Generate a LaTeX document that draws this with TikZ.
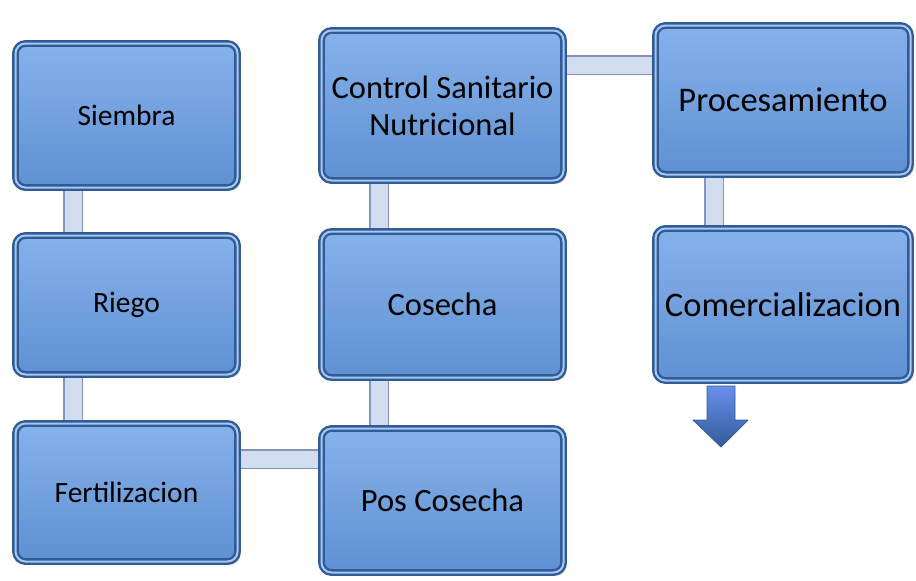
\documentclass[tikz,border=0pt]{standalone}
\usepackage{fontspec}
\setmainfont{Carlito}
\usepackage{tikz}
\usetikzlibrary{positioning, shadows, backgrounds}
\definecolor{boxtop}{HTML}{86B2EA}
\definecolor{boxbottom}{HTML}{5F90D2}
\definecolor{boxedge}{HTML}{2F5C98}
\definecolor{boxshine}{HTML}{A9C8EF}
\definecolor{pipeedge}{HTML}{8395BA}
\definecolor{pipefill}{HTML}{D3DDF0}
\tikzset{Block/.style={draw=boxedge, line width=2.4pt, double=boxshine, double distance=2pt, rounded corners=10pt, top color=boxtop, bottom color=boxbottom, align=center, text=black, inner sep=2pt, drop shadow={opacity=.4, shadow xshift=3pt, shadow yshift=-3pt}}}
\tikzset{Left/.style={minimum width=222pt, font=\fontsize{29.5}{33}\selectfont}}
\tikzset{Mid/.style={minimum width=242pt, font=\fontsize{32.5}{37}\selectfont}}
\tikzset{Right/.style={minimum width=255pt, font=\fontsize{34.5}{38}\selectfont}}
\tikzset{Pipe/.style={draw=pipeedge, line width=1.4pt, double=pipefill, double distance=17pt}}
\tikzset{Exit/.style={draw=boxedge, line width=.8pt, top color=boxtop!80!blue, bottom color=boxedge, line join=round}}

\begin{document}
\begin{tikzpicture}[x=1pt, y=-1pt]
\useasboundingbox (0,0) rectangle (916,581);

\node[Block, Left, minimum height=144pt] (siembra) at (126.5,115.5) {Siembra};
\node[Block, Left, minimum height=139pt] (riego) at (126.5,305) {Riego};
\node[Block, Left, minimum height=138pt] (fert) at (126.5,492.5) {Fertilizacion};

\node[Block, Mid, minimum height=150pt] (control) at (442.5,105.5) {Control Sanitario\\Nutricional};
\node[Block, Mid, minimum height=146pt] (cosecha) at (442.5,304.5) {Cosecha};
\node[Block, Mid, minimum height=144pt] (pos) at (442.5,500.5) {Pos Cosecha};

\node[Block, Right, minimum height=149pt] (proc) at (783,100) {Procesamiento};
\node[Block, Right, minimum height=152pt] (comer) at (783,304.5) {Comercializacion};

\begin{pgfonlayer}{background}
\draw[Pipe] ([xshift=59pt]siembra.south west) -- ([xshift=59pt]riego.north west);
\draw[Pipe] ([xshift=59pt]riego.south west) -- ([xshift=59pt]fert.north west);
\draw[Pipe] ([yshift=-37pt]fert.north east) -- ([yshift=-32pt]pos.north west);
\draw[Pipe] ([xshift=59pt]control.south west) -- ([xshift=59pt]cosecha.north west);
\draw[Pipe] ([xshift=59pt]cosecha.south west) -- ([xshift=59pt]pos.north west);
\draw[Pipe] ([yshift=-36pt]control.north east) -- ([yshift=-41pt]proc.north west);
\draw[Pipe] ([xshift=60pt]proc.south west) -- ([xshift=60pt]comer.north west);
\end{pgfonlayer}

% exit arrow under the last step
\draw[Exit] (707,386) -- (735,386) -- (735,420) -- (748,420) -- (721,447) -- (693,420) -- (707,420) -- cycle;
\end{tikzpicture}
\end{document}
